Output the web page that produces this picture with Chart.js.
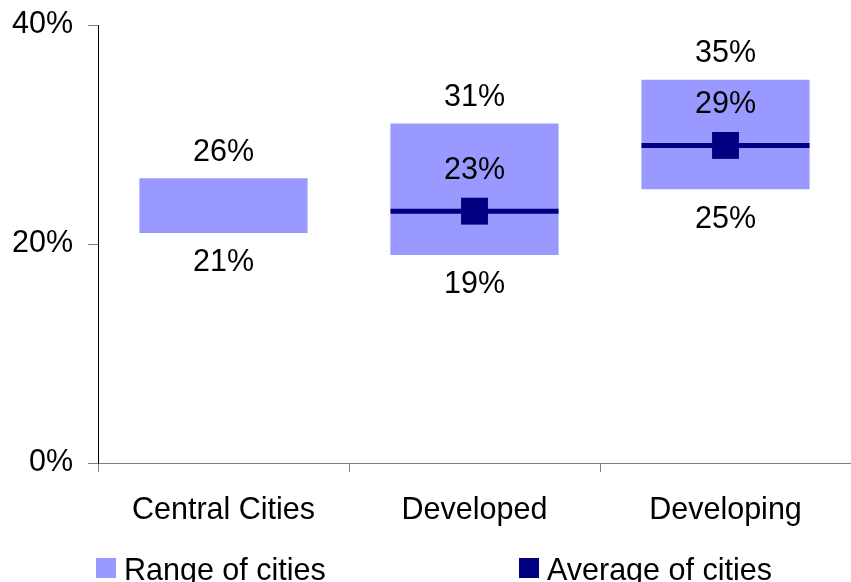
<!DOCTYPE html>
<html>
<head>
<meta charset="utf-8">
<script src="https://cdn.jsdelivr.net/npm/chart.js@4/dist/chart.umd.min.js"></script>
<style>
  body { margin: 0; background: #fff; }
  canvas { display: block; }
</style>
</head>
<body>
<canvas id="rangeChart" width="851" height="582"></canvas>
<script>
const categories = ["Central Cities", "Developed", "Developing"];
const rangeLow = [21, 19, 25];
const rangeHigh = [26, 31, 35];
const averages = [null, 23, 29];
const yTicks = [0, 20, 40];
const legendLabels = ["Range of cities", "Average of cities"];

const RANGE_COLOR = "#9999FF";
const AVG_COLOR = "#000080";
const FONT = "'Liberation Sans', Arial, sans-serif";
const FONT_SIZE = 30.5;

Chart.defaults.font.family = FONT;
Chart.defaults.font.size = FONT_SIZE;
Chart.defaults.color = "#000";

// value labels above / below the bars and over the average marker
const valueLabels = {
  id: "valueLabels",
  afterDatasetsDraw(chart) {
    const {ctx, scales: {x, y}} = chart;
    ctx.save();
    ctx.font = FONT_SIZE + "px " + FONT;
    ctx.fillStyle = "#000";
    ctx.textAlign = "center";
    ctx.textBaseline = "middle";
    categories.forEach((c, i) => {
      const px = x.getPixelForValue(i);
      ctx.fillText(rangeHigh[i] + "%", px, y.getPixelForValue(rangeHigh[i]) - 26);
      ctx.fillText(rangeLow[i] + "%", px, y.getPixelForValue(rangeLow[i]) + 30);
      if (averages[i] !== null)
        ctx.fillText(averages[i] + "%", px, y.getPixelForValue(averages[i]) - 41);
    });
    ctx.restore();
  }
};

// legend sits low and is cut by the bottom edge, so draw it by hand
const bottomLegend = {
  id: "bottomLegend",
  afterDraw(chart) {
    const ctx = chart.ctx;
    const items = [
      {label: legendLabels[0], color: RANGE_COLOR, x: 96},
      {label: legendLabels[1], color: AVG_COLOR, x: 519}
    ];
    ctx.save();
    ctx.font = FONT_SIZE + "px " + FONT;
    ctx.textBaseline = "alphabetic";
    ctx.textAlign = "left";
    items.forEach(it => {
      ctx.fillStyle = it.color;
      ctx.fillRect(it.x, 558, 20, 20);
      ctx.fillStyle = "#000";
      ctx.fillText(it.label, it.x + 28, 580);
    });
    ctx.restore();
  }
};

new Chart(document.getElementById("rangeChart"), {
  type: "bar",
  data: {
    labels: categories,
    datasets: [
      {
        label: legendLabels[0],
        data: rangeLow.map((lo, i) => [lo, rangeHigh[i]]),
        backgroundColor: RANGE_COLOR,
        borderWidth: 0,
        categoryPercentage: 1,
        barPercentage: 0.67,
        order: 3
      },
      {
        type: "line",
        label: "avg line",
        data: averages,
        showLine: false,
        pointStyle: "line",
        pointRadius: 84,
        pointBorderWidth: 5,
        pointBorderColor: AVG_COLOR,
        pointBackgroundColor: AVG_COLOR,
        order: 2
      },
      {
        type: "line",
        label: legendLabels[1],
        data: averages,
        showLine: false,
        pointStyle: "rect",
        pointRadius: 19,
        pointBorderWidth: 0,
        pointBackgroundColor: AVG_COLOR,
        order: 1
      }
    ]
  },
  options: {
    responsive: false,
    animation: false,
    layout: { autoPadding: false, padding: { top: 25, right: 0, bottom: 0, left: 0 } },
    plugins: {
      legend: { display: false },
      tooltip: { enabled: false }
    },
    scales: {
      x: {
        grid: {
          offset: true,
          drawOnChartArea: false,
          drawTicks: true,
          tickLength: 9,
          color: "#808080"
        },
        border: { color: "#808080", width: 1 },
        ticks: { padding: 20, maxRotation: 0 },
        afterFit(scale) {
          scale.height = 119;
          scale.paddingLeft = 0;
          scale.paddingRight = 0;
        }
      },
      y: {
        min: 0,
        max: 40,
        afterBuildTicks(scale) { scale.ticks = yTicks.map(v => ({value: v})); },
        grid: {
          drawOnChartArea: false,
          drawTicks: true,
          tickLength: 10,
          color: "#808080"
        },
        border: { color: "#000", width: 1 },
        ticks: { padding: 15, callback: v => v + "%" },
        afterFit(scale) {
          scale.width = 98;
          scale.paddingTop = 0;
          scale.paddingBottom = 0;
        }
      }
    }
  },
  plugins: [valueLabels, bottomLegend]
});
</script>
</body>
</html>
